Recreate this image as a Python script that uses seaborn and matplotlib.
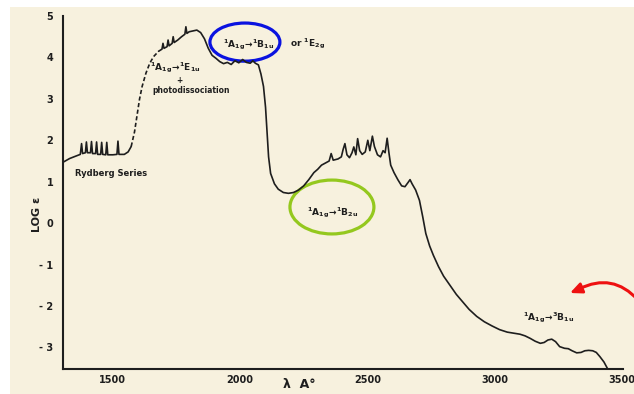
import matplotlib
matplotlib.use("Agg")
import matplotlib.pyplot as plt
import seaborn as sns
import pandas as pd
from matplotlib.patches import Ellipse, Rectangle, FancyArrowPatch

# ---------------- data ----------------
# Rydberg series region (solid)
wl_ryd = [1304, 1330, 1355, 1372, 1377, 1381, 1392, 1396, 1400, 1412, 1416, 1420,
          1432, 1436, 1440, 1452, 1456, 1460, 1472, 1476, 1480, 1500, 1516, 1520,
          1524, 1545, 1560, 1572]
le_ryd = [1.47, 1.56, 1.62, 1.66, 1.92, 1.68, 1.70, 1.96, 1.70, 1.70, 1.97, 1.68,
          1.68, 1.96, 1.66, 1.66, 1.95, 1.66, 1.65, 1.95, 1.65, 1.65, 1.66, 1.98,
          1.66, 1.66, 1.72, 1.85]
# photodissociation rise (dashed)
wl_dash = [1572, 1585, 1595, 1605, 1615, 1630, 1645, 1660, 1680]
le_dash = [1.85, 2.20, 2.60, 3.00, 3.30, 3.62, 3.86, 4.02, 4.15]
# main spectrum (solid)
wl_main = [1680, 1693, 1697, 1701, 1713, 1717, 1721, 1733, 1737, 1741, 1755, 1770,
           1783, 1787, 1791, 1800, 1815, 1830, 1845, 1860, 1875, 1890, 1905, 1920,
           1935, 1950, 1965, 1980, 1995, 2010, 2025, 2040, 2050, 2060, 2072, 2082,
           2092, 2100, 2106, 2112, 2120, 2135, 2150, 2170, 2190, 2210, 2230, 2250,
           2270, 2290, 2305, 2320, 2335, 2350, 2358, 2366, 2385, 2398, 2405, 2412,
           2420, 2430, 2440, 2447, 2455, 2462, 2470, 2480, 2492, 2502, 2510, 2520,
           2528, 2540, 2552, 2562, 2570, 2578, 2585, 2592, 2605, 2620, 2635, 2648,
           2660, 2668, 2676, 2690, 2705, 2718, 2730, 2745, 2760, 2780, 2800, 2825,
           2850, 2875, 2900, 2930, 2960, 2990, 3020, 3050, 3080, 3100, 3120, 3140,
           3160, 3180, 3195, 3210, 3225, 3240, 3256, 3275, 3290, 3305, 3323, 3340,
           3355, 3370, 3386, 3400, 3414, 3430, 3445]
le_main = [4.15, 4.20, 4.34, 4.22, 4.26, 4.42, 4.28, 4.34, 4.50, 4.36, 4.42, 4.50,
           4.56, 4.74, 4.58, 4.62, 4.64, 4.66, 4.60, 4.45, 4.22, 4.05, 3.98, 3.90,
           3.85, 3.88, 3.83, 3.92, 3.87, 3.95, 3.88, 3.86, 3.92, 3.86, 3.82, 3.60,
           3.30, 2.80, 2.20, 1.60, 1.20, 0.95, 0.82, 0.74, 0.72, 0.74, 0.80, 0.90,
           1.05, 1.22, 1.30, 1.40, 1.45, 1.50, 1.68, 1.52, 1.55, 1.60, 1.78, 1.92,
           1.65, 1.58, 1.70, 1.84, 1.65, 2.04, 1.75, 1.66, 1.72, 2.00, 1.75, 2.10,
           1.85, 1.65, 1.60, 1.75, 1.70, 2.05, 1.70, 1.40, 1.22, 1.05, 0.90, 0.88,
           0.98, 1.05, 0.95, 0.80, 0.55, 0.15, -0.25, -0.55, -0.78, -1.05, -1.28, -1.50,
           -1.72, -1.90, -2.08, -2.25, -2.38, -2.48, -2.57, -2.63, -2.66, -2.68, -2.72, -2.78,
           -2.85, -2.90, -2.88, -2.82, -2.80, -2.86, -2.98, -3.02, -3.03, -3.08, -3.13, -3.12,
           -3.08, -3.07, -3.08, -3.12, -3.22, -3.35, -3.52]

x_ticks = [1500, 2000, 2500, 3000, 3500]
x_ticklabels = ["1500", "2000", "2500", "3000", "3500"]
y_ticks = [-3, -2, -1, 0, 1, 2, 3, 4, 5]
y_ticklabels = ["- 3", "- 2", "- 1", "0", "1", "2", "3", "4", "5"]

# ---------------- style ----------------
sns.set_style("white")
plt.rcParams["font.family"] = ["DejaVu Sans"]
plt.rcParams["font.weight"] = "bold"
plt.rcParams["mathtext.fontset"] = "dejavusans"
plt.rcParams["mathtext.default"] = "bf"

W, H = 634, 394
fig = plt.figure(figsize=(W / 100, H / 100), dpi=100)
fig.patch.set_facecolor("white")
fig.patches.append(Rectangle((10 / W, 0), 1 - 10 / W, 1 - 7 / H, transform=fig.transFigure,
                             facecolor="#f7f1de", edgecolor="none", zorder=-10))

ax = fig.add_axes([63 / W, 1 - 369 / H, (623 - 63) / W, (369 - 16) / H])
ax.set_facecolor("none")

ink = "#1e1e1e"
sns.lineplot(data=pd.DataFrame({"wl": wl_ryd, "le": le_ryd}), x="wl", y="le",
             sort=False, estimator=None, color=ink, lw=1.2, ax=ax)
sns.lineplot(data=pd.DataFrame({"wl": wl_dash, "le": le_dash}), x="wl", y="le",
             sort=False, estimator=None, color=ink, lw=1.2, ax=ax, linestyle=(0, (2.5, 1.5)))
sns.lineplot(data=pd.DataFrame({"wl": wl_main, "le": le_main}), x="wl", y="le",
             sort=False, estimator=None, color=ink, lw=1.2, ax=ax)

ax.set_xlim(1304, 3505)
ax.set_ylim(-3.52, 5.0)
for s in ["top", "right"]:
    ax.spines[s].set_visible(False)
for s in ["left", "bottom"]:
    ax.spines[s].set_color(ink)
    ax.spines[s].set_linewidth(1.5)

ax.set_xticks(x_ticks)
ax.set_xticklabels(x_ticklabels)
ax.set_yticks(y_ticks)
ax.set_yticklabels(y_ticklabels)
ax.tick_params(axis="x", direction="in", length=6, width=1.3, colors=ink, labelsize=7, pad=4)
ax.tick_params(axis="y", direction="inout", length=8, width=1.3, colors=ink, labelsize=7, pad=3)
for lab in ax.get_xticklabels() + ax.get_yticklabels():
    lab.set_fontweight("bold")
ax.set_xlabel("")
ax.set_ylabel("")

fig.text(37 / W, 1 - 214 / H, "LOG ε", rotation=90, ha="center", va="center",
         fontsize=8, fontweight="bold", color=ink)
fig.text(283 / W, 1 - 384 / H, "λ  A°", ha="left", va="center",
         fontsize=9, fontweight="bold", color=ink)

fs = 6.5
ax.text(1351, 1.21, "Rydberg Series", fontsize=6, fontweight="bold", color=ink,
        ha="left", va="center")
ax.text(1646, 3.74, r"$^1A_{1g}\!\rightarrow\!{}^1E_{1u}$", fontsize=fs, color=ink,
        ha="left", va="center")
ax.text(1760, 3.45, "+", fontsize=5.5, color=ink, ha="center", va="center")
ax.text(1654, 3.21, "photodissociation", fontsize=5.5, fontweight="bold", color=ink,
        ha="left", va="center")
ax.text(1933, 4.30, r"$^1A_{1g}\!\rightarrow\!{}^1B_{1u}$", fontsize=fs, color=ink,
        ha="left", va="center")
ax.text(2196, 4.32, r"or $^1E_{2g}$", fontsize=fs, color=ink, ha="left", va="center")
ax.text(2263, 0.25, r"$^1A_{1g}\!\rightarrow\!{}^1B_{2u}$", fontsize=fs, color=ink,
        ha="left", va="center")
ax.text(3112, -2.29, r"$^1A_{1g}\!\rightarrow\!{}^3B_{1u}$", fontsize=fs, color=ink,
        ha="left", va="center")

# annotation marks
ax.add_patch(Ellipse((2019, 4.37), 275, 0.92, fill=False, edgecolor="#0a12e0", lw=2.3,
                     clip_on=False))
ax.add_patch(Ellipse((2361, 0.39), 330, 1.30, fill=False, edgecolor="#94c81e", lw=2.3,
                     clip_on=False))
red = "#ee1111"
arc = FancyArrowPatch((638 / W, 1 - 300 / H), (579 / W, 1 - 289 / H),
                      transform=fig.transFigure, connectionstyle="arc3,rad=0.38",
                      arrowstyle="-", color=red, lw=2.2, shrinkA=0, shrinkB=0)
fig.patches.append(arc)
head = FancyArrowPatch((582 / W, 1 - 288 / H), (570 / W, 1 - 293 / H),
                       transform=fig.transFigure, arrowstyle="-|>,head_length=7,head_width=3.2",
                       color=red, lw=2.0, mutation_scale=1, shrinkA=0, shrinkB=0)
fig.patches.append(head)

fig.savefig("out.png", dpi=100)
